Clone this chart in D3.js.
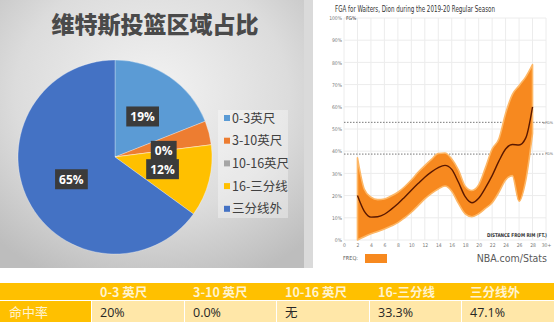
<!DOCTYPE html>
<html>
<head>
<meta charset="utf-8">
<script src="https://cdn.jsdelivr.net/npm/d3@7/dist/d3.min.js"></script>
<style>
  html, body { margin: 0; padding: 0; background: #fff; }
  svg { display: block; }
</style>
</head>
<body>
<svg id="chart" width="554" height="322"></svg>
<script>
// ---- Pie: shot distribution by zone ----
const zoneNames = ["0-3英尺", "3-10英尺", "10-16英尺", "16-三分线", "三分线外"];
const zoneShares = [19, 4, 0, 12, 65];
const zoneLabelShown = [true, false, true, true, true];

// ---- Shot chart: FG% by distance ----
const distFt   = [2, 3, 4, 5, 6, 7, 8, 9, 10, 11, 12, 13, 14, 15, 16, 17, 18, 19, 20, 21, 22, 23, 24, 25, 26, 27, 28];
const fgCenter = [20, 13, 10.3, 10.5, 11.6, 13.8, 16.3, 19.3, 22.4, 25.4, 28.3, 30.7, 32.6, 33.6, 31.8, 26, 19.5, 16.8, 18.8, 23.5, 29, 35.5, 41, 43, 42.8, 46, 60];
const fgLow    = [0, 1.5, 2.8, 3.8, 5, 6.3, 7.8, 10, 12.5, 15.5, 18.5, 21, 23, 24.3, 22, 16.5, 11.8, 10.5, 11.8, 14.2, 16.8, 21.5, 27, 29, 17.5, 27, 48];
const fgHigh   = [37, 23, 19.3, 18.2, 18.5, 19.8, 21.5, 24, 27, 30.5, 33.5, 36.3, 39, 39.2, 36.5, 31.5, 24.2, 22.3, 24.8, 32.5, 41, 45.5, 57, 65.5, 69.5, 73.5, 79];
const yTicks = [0, 10, 20, 30, 40, 50, 60, 70, 80, 90, 100];
const xTicks = [0, 2, 4, 6, 8, 10, 12, 14, 16, 18, 20, 22, 24, 26, 28, 30];
const refLines = [{ name: "eFG%", value: 53 }, { name: "FG%", value: 38.7 }];

// ---- Table: FG% by zone ----
const tableHeaders = ["0-3 英尺", "3-10 英尺", "10-16 英尺", "16-三分线", "三分线外"];
const tableRowLabel = "命中率";
const tableValues = ["20%", "0.0%", "无", "33.3%", "47.1%"];

const svg = d3.select("#chart");
const CJK = "'Noto Sans CJK SC', 'Noto Sans', sans-serif";
const NARROW = "'Liberation Sans Narrow', 'DejaVu Sans Condensed', Roboto, sans-serif";

const defs = svg.append("defs");
const bg = defs.append("radialGradient").attr("id", "panelBg")
  .attr("cx", "50%").attr("cy", "35%").attr("r", "75%");
bg.append("stop").attr("offset", "0%").attr("stop-color", "#f3f3f3");
bg.append("stop").attr("offset", "60%").attr("stop-color", "#dcdcdc");
bg.append("stop").attr("offset", "100%").attr("stop-color", "#bdbdbd");

// ================= Left panel: pie =================
const pieG = svg.append("g");
pieG.append("rect").attr("x", 0).attr("y", 0).attr("width", 304).attr("height", 268)
  .attr("fill", "url(#panelBg)");
svg.append("rect").attr("x", 304).attr("y", 0).attr("width", 9).attr("height", 268)
  .attr("fill", "#dadada");

pieG.append("text")
  .attr("x", 155).attr("y", 33)
  .attr("text-anchor", "middle")
  .attr("font-family", CJK).attr("font-weight", 900).attr("font-size", 23)
  .attr("fill", "#4a4a4a")
  .text("维特斯投篮区域占比");

const zoneColor = d3.scaleOrdinal()
  .domain(zoneNames)
  .range(["#5b9bd5", "#ed7d31", "#a5a5a5", "#ffc000", "#4472c4"]);

const cx = 115, cy = 157, R = 97;
const pie = d3.pie().sort(null).value(d => d.share);
const zones = zoneNames.map((n, i) => ({ name: n, share: zoneShares[i], shown: zoneLabelShown[i] }));
const arcs = pie(zones);
const arc = d3.arc().innerRadius(0).outerRadius(R);
const labelArc = d3.arc().innerRadius(49).outerRadius(49);

const pg = pieG.append("g").attr("transform", `translate(${cx},${cy})`);
pg.selectAll("path").data(arcs).join("path")
  .attr("d", arc)
  .attr("fill", d => zoneColor(d.data.name))
  .attr("stroke", "rgba(255,255,255,0.5)")
  .attr("stroke-width", 0.6);

const lbl = pg.selectAll("g.lbl").data(arcs.filter(d => d.data.shown)).join("g")
  .attr("class", "lbl")
  .attr("transform", d => `translate(${labelArc.centroid(d)})`);
lbl.append("text")
  .attr("text-anchor", "middle").attr("dy", "0.36em")
  .attr("font-family", "'Open Sans', 'Liberation Sans', sans-serif")
  .attr("font-weight", 700).attr("font-size", 12)
  .attr("fill", "#fff")
  .text(d => d.data.share + "%");
lbl.each(function () {
  const g = d3.select(this);
  const b = g.select("text").node().getBBox();
  g.insert("rect", "text")
    .attr("x", b.x - 4).attr("y", -10)
    .attr("width", b.width + 8).attr("height", 20)
    .attr("fill", "#3b3b3b");
});

// legend
const lg = pieG.append("g");
lg.append("rect").attr("x", 218).attr("y", 110).attr("width", 70).attr("height", 108)
  .attr("fill", "rgba(255,255,255,0.35)");
const li = lg.selectAll("g.item").data(zoneNames).join("g")
  .attr("class", "item")
  .attr("transform", (d, i) => `translate(224,${118 + i * 22.7})`);
li.append("rect").attr("x", 0).attr("y", -3).attr("width", 6).attr("height", 6)
  .attr("fill", d => zoneColor(d));
li.append("text").attr("x", 8).attr("dy", "0.36em")
  .attr("font-family", CJK).attr("font-size", 12.5).attr("fill", "#404040")
  .text(d => d);

// ================= Right panel: shot chart =================
const rg = svg.append("g");
rg.append("rect").attr("x", 313).attr("y", 0).attr("width", 241).attr("height", 268).attr("fill", "#fff");

const x = d3.scaleLinear().domain([0, 30]).range([344, 546]);
const y = d3.scaleLinear().domain([0, 100]).range([240, 18]);

rg.append("text").attr("x", 335).attr("y", 12)
  .attr("font-family", NARROW).attr("font-size", 8.5).attr("fill", "#333")
  .attr("textLength", 160).attr("lengthAdjust", "spacingAndGlyphs")
  .text("FGA for Waiters, Dion during the 2019-20 Regular Season");

// grid
rg.append("g").selectAll("line").data(d3.range(0, 31, 2)).join("line")
  .attr("x1", d => x(d)).attr("x2", d => x(d))
  .attr("y1", y(100)).attr("y2", y(0))
  .attr("stroke", "#ececec").attr("stroke-width", 1);
rg.append("g").selectAll("line").data(yTicks).join("line")
  .attr("x1", x(0)).attr("x2", 546)
  .attr("y1", d => y(d)).attr("y2", d => y(d))
  .attr("stroke", "#ececec").attr("stroke-width", 1);

// y axis labels
const yAxis = d3.axisLeft(y).tickValues(yTicks).tickSize(0).tickPadding(2).tickFormat(d => d + "%");
rg.append("g").attr("transform", `translate(${x(0)},0)`).call(yAxis)
  .call(g => g.select(".domain").remove())
  .call(g => g.selectAll("text").attr("font-family", NARROW).attr("font-size", 5).attr("fill", "#777"));
rg.append("text").attr("x", 346).attr("y", y(100) + 2)
  .attr("font-family", NARROW).attr("font-size", 5).attr("fill", "#333").text("FG%");

// x axis labels
const xAxis = d3.axisBottom(x).tickValues(xTicks).tickSize(0).tickPadding(2)
  .tickFormat(d => d === 30 ? "30+" : d);
rg.append("g").attr("transform", `translate(0,${y(0) + 1})`).call(xAxis)
  .call(g => g.select(".domain").remove())
  .call(g => g.selectAll("text").attr("font-family", NARROW).attr("font-size", 5).attr("fill", "#777"));
rg.append("text").attr("x", 547).attr("y", 237).attr("text-anchor", "end")
  .attr("font-family", NARROW).attr("font-size", 5.2).attr("font-weight", 700).attr("fill", "#333")
  .attr("textLength", 60).attr("lengthAdjust", "spacingAndGlyphs")
  .text("DISTANCE FROM RIM (FT.)");

// league reference lines, labelled at the right end
rg.append("g").selectAll("line").data(refLines).join("line")
  .attr("x1", x(0)).attr("x2", 544)
  .attr("y1", d => y(d.value)).attr("y2", d => y(d.value))
  .attr("stroke", "#555").attr("stroke-width", 0.8).attr("stroke-dasharray", "1.5,1.5");
rg.append("g").selectAll("text").data(refLines).join("text")
  .attr("x", 553).attr("y", d => y(d.value) + 1.3).attr("text-anchor", "end")
  .attr("font-family", NARROW).attr("font-size", 3.8).attr("fill", "#666")
  .text(d => d.name);

// confidence band and FG% line
const pts = distFt.map((d, i) => ({ d, c: fgCenter[i], lo: fgLow[i], hi: fgHigh[i] }));
const band = d3.area().x(p => x(p.d)).y0(p => y(p.lo)).y1(p => y(p.hi)).curve(d3.curveMonotoneX);
rg.append("path").attr("d", band(pts))
  .attr("fill", "#f7891f").attr("stroke", "#fdb766").attr("stroke-width", 1.6).attr("stroke-linejoin", "round");
const line = d3.line().x(p => x(p.d)).y(p => y(p.c)).curve(d3.curveMonotoneX);
rg.append("path").attr("d", line(pts))
  .attr("fill", "none").attr("stroke", "#5a1800").attr("stroke-width", 1.4);

// footer legend
rg.append("text").attr("x", 343).attr("y", 260)
  .attr("font-family", NARROW).attr("font-size", 5.5).attr("fill", "#555").text("FREQ:");
rg.append("rect").attr("x", 365).attr("y", 254).attr("width", 22).attr("height", 9).attr("fill", "#f7891f");
rg.append("text").attr("x", 547).attr("y", 262).attr("text-anchor", "end")
  .attr("font-family", NARROW).attr("font-size", 10.5).attr("fill", "#5a5a5a")
  .text("NBA.com/Stats");

// ================= Bottom table =================
const tg = svg.append("g");
const colEdges = [0, 91, 184, 276, 369, 461, 554];
const rowY = [283, 300.5];
tg.append("rect").attr("x", 0).attr("y", rowY[0]).attr("width", 554).attr("height", 17).attr("fill", "#ffc000");
tg.append("rect").attr("x", 0).attr("y", rowY[1] + 0.5).attr("width", 91).attr("height", 22).attr("fill", "#ffc000");
tg.selectAll("rect.cell").data(tableValues).join("rect")
  .attr("class", "cell")
  .attr("x", (d, i) => colEdges[i + 1] + 1)
  .attr("y", rowY[1] + 0.5)
  .attr("width", (d, i) => colEdges[i + 2] - colEdges[i + 1] - 1)
  .attr("height", 22)
  .attr("fill", "#ffe7a8");
tg.selectAll("text.head").data(tableHeaders).join("text")
  .attr("class", "head")
  .attr("x", (d, i) => colEdges[i + 1] + 9).attr("y", 296.5)
  .attr("font-family", CJK).attr("font-weight", 700).attr("font-size", 12.5)
  .attr("fill", "#fff3cf")
  .text(d => d);
tg.append("text").attr("x", 9).attr("y", 317)
  .attr("font-family", CJK).attr("font-size", 13).attr("fill", "#fff3cf")
  .text(tableRowLabel);
tg.selectAll("text.val").data(tableValues).join("text")
  .attr("class", "val")
  .attr("x", (d, i) => colEdges[i + 1] + 9).attr("y", 317)
  .attr("font-family", "'Open Sans', " + CJK).attr("font-size", 12.5)
  .attr("fill", "#262626")
  .text(d => d);
</script>
</body>
</html>
